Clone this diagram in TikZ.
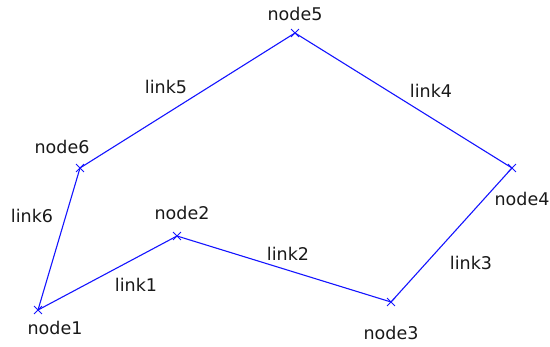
\documentclass[tikz,border=0pt]{standalone}
\usepackage{fontspec}
\setmainfont{DejaVu Sans}
\usetikzlibrary{shapes.misc}
\definecolor{linkblue}{RGB}{20,20,255}
\begin{document}
\begin{tikzpicture}[x=1pt,y=-1pt,
  pt/.style={cross out,draw=linkblue,line width=0.9pt,minimum size=7pt,inner sep=0pt},
  lnk/.style={draw=linkblue,line width=1.1pt},
  lbl/.style={font=\fontsize{17.5}{20}\selectfont,text=black!90,inner sep=0pt}]
\useasboundingbox (0,0) rectangle (550,347);
\node[pt] (n1) at (38,310) {};
\node[pt] (n2) at (177,236) {};
\node[pt] (n3) at (391,302) {};
\node[pt] (n4) at (512,168) {};
\node[pt] (n5) at (295,33) {};
\node[pt] (n6) at (80,168) {};
\draw[lnk] (n1.center) -- (n2.center) -- (n3.center) -- (n4.center) -- (n5.center) -- (n6.center) -- (n1.center);
\node[lbl] (t1) at (55,328) {node1};
\node[lbl] (t2) at (182,213) {node2};
\node[lbl] (t3) at (391,333) {node3};
\node[lbl] (t4) at (522,199) {node4};
\node[lbl] (t5) at (295,14) {node5};
\node[lbl] (t6) at (62,147) {node6};
\node[lbl] (l1) at (136,285) {link1};
\node[lbl] (l2) at (288,254) {link2};
\node[lbl] (l3) at (471,263) {link3};
\node[lbl] (l4) at (431,91) {link4};
\node[lbl] (l5) at (166,87) {link5};
\node[lbl] (l6) at (32,216) {link6};
\end{tikzpicture}
\end{document}
